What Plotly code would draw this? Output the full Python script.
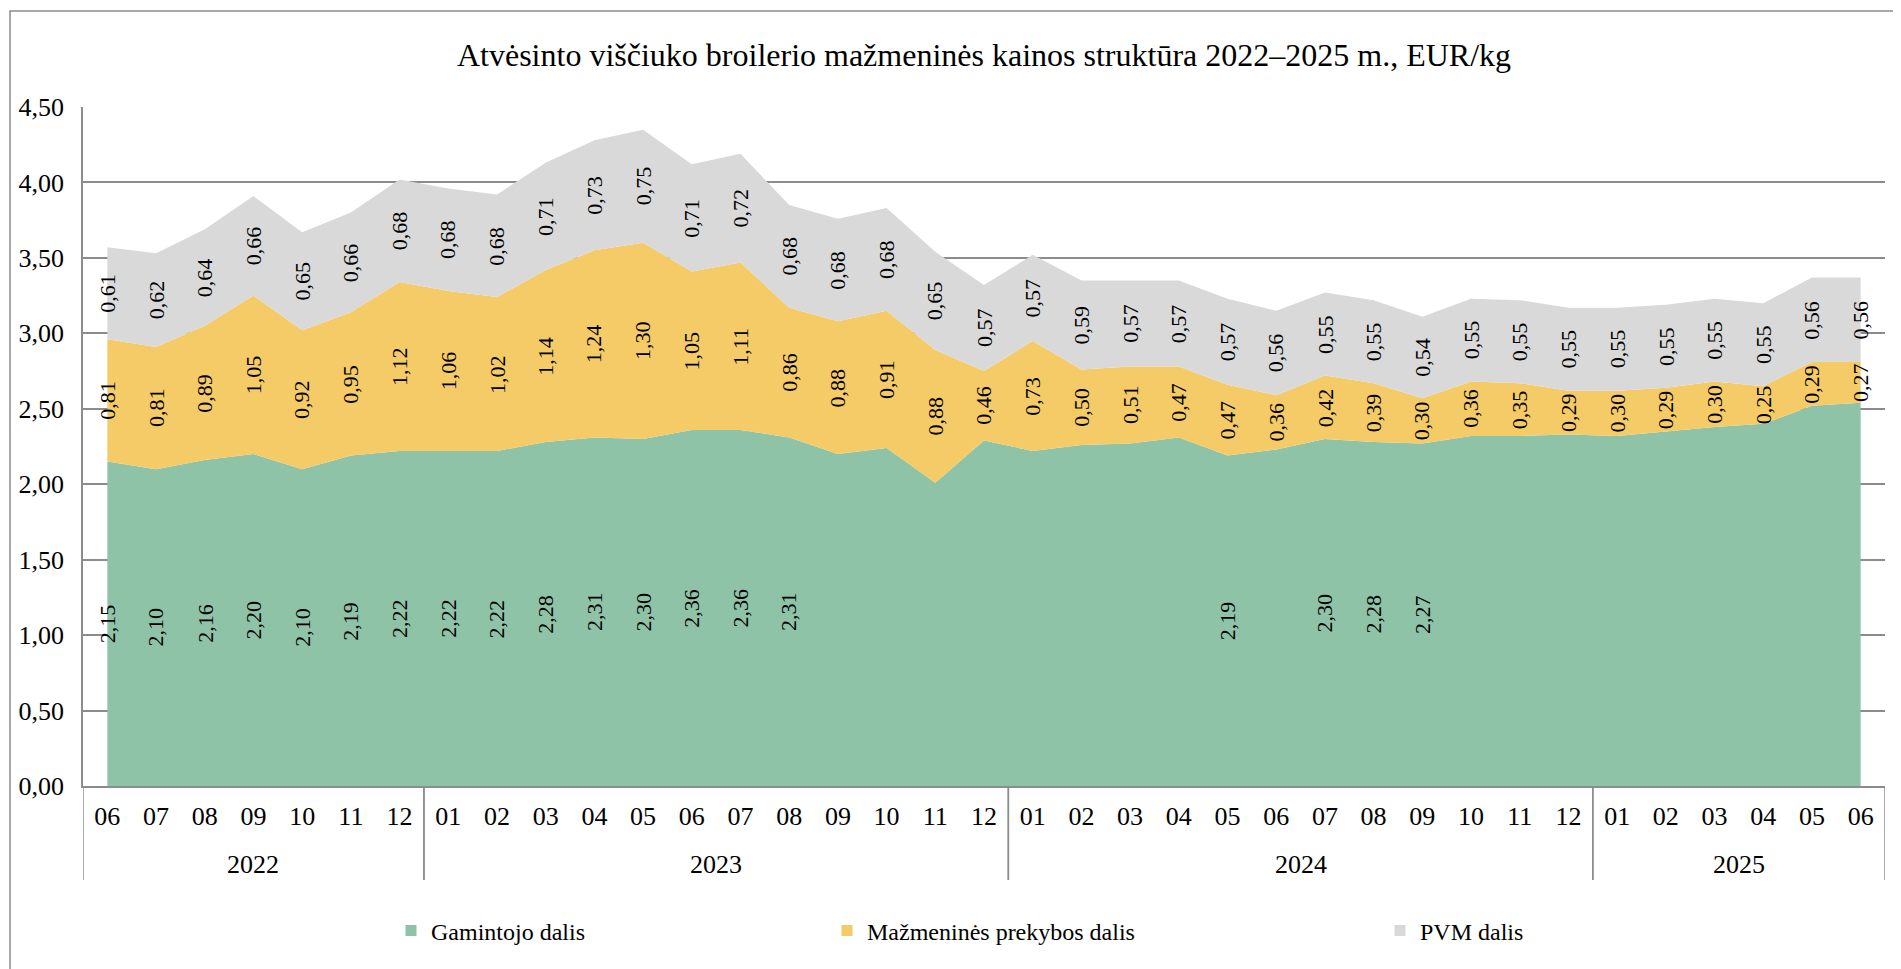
import plotly.graph_objects as go

years = ["2022"] * 7 + ["2023"] * 12 + ["2024"] * 12 + ["2025"] * 6
months = ["06", "07", "08", "09", "10", "11", "12"] + \
         ["01", "02", "03", "04", "05", "06", "07", "08", "09", "10", "11", "12"] + \
         ["01", "02", "03", "04", "05", "06", "07", "08", "09", "10", "11", "12"] + \
         ["01", "02", "03", "04", "05", "06"]

gamintojo = [2.15, 2.10, 2.16, 2.20, 2.10, 2.19, 2.22,
             2.22, 2.22, 2.28, 2.31, 2.30, 2.36, 2.36, 2.31, 2.20, 2.24, 2.01, 2.29,
             2.22, 2.26, 2.27, 2.31, 2.19, 2.23, 2.30, 2.28, 2.27, 2.32, 2.32, 2.33,
             2.32, 2.35, 2.38, 2.40, 2.52, 2.54]
# which producer values carry a data label in the original
gamintojo_labelled = [True] * 15 + [False] * 8 + [True, False, True, True, True] + [False] * 9

mazmenine = [0.81, 0.81, 0.89, 1.05, 0.92, 0.95, 1.12,
             1.06, 1.02, 1.14, 1.24, 1.30, 1.05, 1.11, 0.86, 0.88, 0.91, 0.88, 0.46,
             0.73, 0.50, 0.51, 0.47, 0.47, 0.36, 0.42, 0.39, 0.30, 0.36, 0.35, 0.29,
             0.30, 0.29, 0.30, 0.25, 0.29, 0.27]

pvm = [0.61, 0.62, 0.64, 0.66, 0.65, 0.66, 0.68,
       0.68, 0.68, 0.71, 0.73, 0.75, 0.71, 0.72, 0.68, 0.68, 0.68, 0.65, 0.57,
       0.57, 0.59, 0.57, 0.57, 0.57, 0.56, 0.55, 0.55, 0.54, 0.55, 0.55, 0.55,
       0.55, 0.55, 0.55, 0.55, 0.56, 0.56]

names = ["Gamintojo dalis", "Mažmeninės prekybos dalis", "PVM dalis"]
colors = ["#8EC3A8", "#F5CB67", "#D9D9D9"]
y_ticks = [0, 0.5, 1.0, 1.5, 2.0, 2.5, 3.0, 3.5, 4.0, 4.5]

FONT = "Liberation Serif"
AXC = "#8c8c8c"
OFF = 8                      # default page body margin
W, H = 1901 - OFF, 969 - OFF
ML = 83 - OFF
MT = 107 - OFF
BOTTOM = 786 - OFF           # figure row of the x axis
MB = H - BOTTOM
MR = W - (1885 - OFF)
PW = W - ML - MR
PH = BOTTOM - MT


def py(page_row):
    """page pixel row -> paper y"""
    return (BOTTOM - (page_row - OFF)) / PH


def px(page_col):
    """page pixel column -> paper x"""
    return (page_col - OFF - ML) / PW


keys = [f"{y}-{m}" for y, m in zip(years, months)]
series = [gamintojo, mazmenine, pvm]

fig = go.Figure()
for name, vals, col in zip(names, series, colors):
    fig.add_trace(go.Scatter(
        x=keys, y=vals, name=name, stackgroup="one", mode="none",
        fillcolor=col, line=dict(width=0), showlegend=False, hoverinfo="skip"))

# legend entries with small square swatches, each in its own legend box
legend_px = [391, 827, 1380]
for k, (name, col) in enumerate(zip(names, colors)):
    lg = "legend" if k == 0 else f"legend{k+1}"
    fig.add_trace(go.Scatter(
        x=[None], y=[None], mode="markers", name=name,
        marker=dict(symbol="square", size=11, color=col),
        legend=lg, showlegend=True))


def fmt(v):
    return f"{v:.2f}".replace(".", ",")


annotations = []
for i in range(len(keys)):
    base = 0.0
    for k, vals in enumerate(series):
        v = vals[i]
        if not (k == 0 and not gamintojo_labelled[i]):
            annotations.append(dict(
                x=keys[i], y=base + v / 2, xref="x", yref="y", text=fmt(v),
                showarrow=False, textangle=-90,
                font=dict(family=FONT, size=22, color="black")))
        base += v

# year group labels and group dividers below the axis
shapes = []
groups = []
for i, y in enumerate(years):
    if not groups or groups[-1][0] != y:
        groups.append([y, i, i])
    else:
        groups[-1][2] = i
for y, a, b in groups:
    annotations.append(dict(
        x=(a + b) / 2, y=py(864), xref="x", yref="paper", text=y,
        showarrow=False, yanchor="middle",
        font=dict(family=FONT, size=26, color="black")))
    for edge in (a - 0.5, b + 0.5):
        shapes.append(dict(type="line", xref="x", yref="paper",
                           x0=edge, x1=edge, y0=0, y1=py(880),
                           line=dict(color=AXC, width=1.5)))

# outer chart frame
shapes.append(dict(type="rect", xref="paper", yref="paper",
                   x0=px(10), x1=px(1920), y0=py(990), y1=py(11),
                   line=dict(color=AXC, width=1.5), fillcolor="rgba(0,0,0,0)",
                   layer="below"))

lay_leg = {}
for k, p in enumerate(legend_px):
    key = "legend" if k == 0 else f"legend{k+1}"
    lay_leg[key] = dict(orientation="h", yanchor="middle", xanchor="left",
                        x=px(p), y=py(931),
                        font=dict(family=FONT, size=24, color="black"),
                        bgcolor="rgba(0,0,0,0)", itemwidth=30)

fig.update_layout(
    width=W, height=H,
    margin=dict(l=ML, r=MR, t=MT, b=MB),
    paper_bgcolor="white", plot_bgcolor="white",
    separators=", ",
    font=dict(family=FONT, size=26, color="black"),
    title=dict(text="Atvėsinto viščiuko broilerio mažmeninės kainos struktūra 2022–2025 m., EUR/kg",
               x=0.5, xref="paper", xanchor="center", y=1 - (55 - OFF) / H, yanchor="middle",
               font=dict(family=FONT, size=32, color="black")),
    annotations=annotations,
    shapes=shapes,
    **lay_leg,
)

fig.update_xaxes(
    type="category", range=[-0.5, len(keys) - 0.5],
    tickvals=keys, ticktext=months,
    showgrid=False, showline=True, linecolor=AXC, linewidth=2,
    tickfont=dict(family=FONT, size=26, color="black"), ticks="",
    ticklabelstandoff=6)

fig.update_yaxes(
    range=[0, 4.5], tickvals=y_ticks, tickformat=".2f",
    showgrid=True, gridcolor=AXC, gridwidth=1.5,
    showline=True, linecolor=AXC, linewidth=1.5,
    zeroline=False, ticks="", ticklabelstandoff=12,
    tickfont=dict(family=FONT, size=26, color="black"))

fig.write_html("out.html")
